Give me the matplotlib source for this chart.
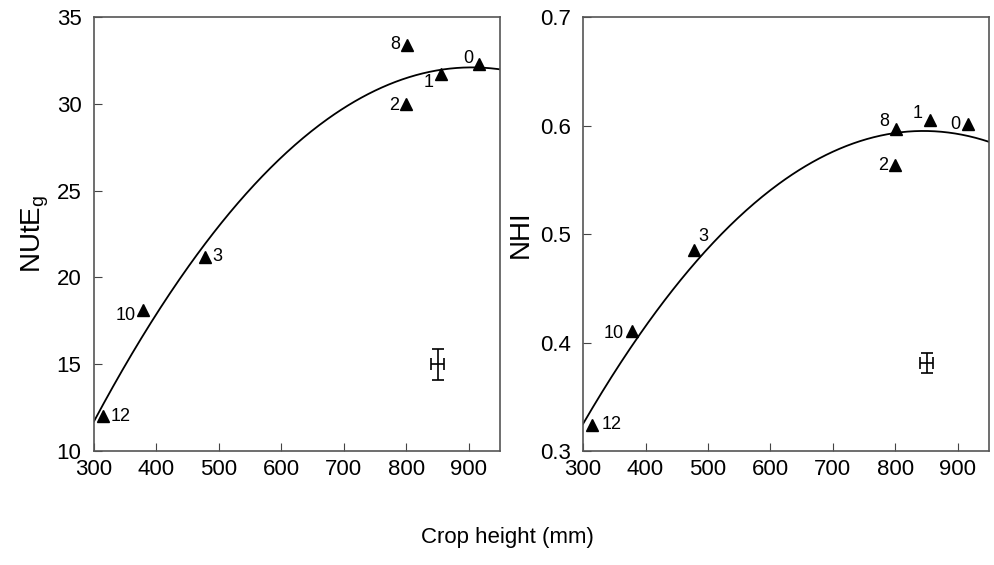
import numpy as np
import matplotlib.pyplot as plt

plt.rcParams['font.family'] = ['Liberation Sans', 'DejaVu Sans']

# Data
height = [314, 378, 478, 800, 801, 855, 916]
labels = ['12', '10', '3', '2', '8', '1', '0']
nute = [12.0, 18.1, 21.2, 30.0, 33.4, 31.7, 32.3]
nhi = [0.324, 0.411, 0.485, 0.564, 0.597, 0.605, 0.601]

# fitted quadratic curves as seen in the figure: a*(x-h)^2 + k
nute_curve = [-5.57e-5, 905, 32.1]
nhi_curve = [-9.09e-7, 845, 0.595]

# pooled error bars (x, y, xerr, yerr)
nute_err = [850, 15.0, 11, 0.9]
nhi_err = [850, 0.381, 10, 0.009]

# label offsets in points (dx, dy, ha, va)
nute_offsets = {
    '12': (6, 0, 'left', 'center'),
    '10': (-5, -4, 'right', 'center'),
    '3': (5, 0, 'left', 'center'),
    '2': (-5, -1, 'right', 'center'),
    '8': (-5, 0, 'right', 'center'),
    '1': (-5, -6, 'right', 'center'),
    '0': (-4, 4, 'right', 'center'),
}
nhi_offsets = {
    '12': (7, 0, 'left', 'center'),
    '10': (-6, -2, 'right', 'center'),
    '3': (3, 10, 'left', 'center'),
    '2': (-5, -1, 'right', 'center'),
    '8': (-5, 5, 'right', 'center'),
    '1': (-5, 5, 'right', 'center'),
    '0': (-5, 0, 'right', 'center'),
}


def draw_panel(ax, y, curve, err, offsets, ylim, yticks, ylabel):
    xs = np.linspace(300, 950, 300)
    a, h, k = curve
    ax.plot(xs, a * (xs - h) ** 2 + k, color='black', lw=1.3, zorder=2)
    ax.plot(height, y, linestyle='none', marker='^', color='black',
            markersize=9, zorder=3)
    for xv, yv, lab in zip(height, y, labels):
        dx, dy, ha, va = offsets[lab]
        ax.annotate(lab, (xv, yv), xytext=(dx, dy), textcoords='offset points',
                    ha=ha, va=va, fontsize=13)
    ax.errorbar(err[0], err[1], xerr=err[2], yerr=err[3], fmt='none',
                ecolor='black', elinewidth=1.2, capsize=4, capthick=1.2)
    ax.set_xlim(300, 950)
    ax.set_ylim(*ylim)
    ax.set_xticks([300, 400, 500, 600, 700, 800, 900])
    ax.set_yticks(yticks)
    ax.tick_params(direction='in', length=6, labelsize=16, color='#444444')
    ax.tick_params(axis='y', pad=9)
    ax.tick_params(axis='x', pad=6)
    for s in ax.spines.values():
        s.set_color('#555555')
        s.set_linewidth(1.2)
    ax.set_ylabel(ylabel, fontsize=20, labelpad=4)


fig = plt.figure(figsize=(9.95, 5.65), dpi=100)
ax1 = fig.add_axes([0.0945, 0.2018, 0.408, 0.768])
ax2 = fig.add_axes([0.586, 0.2018, 0.408, 0.768])

draw_panel(ax1, nute, nute_curve, nute_err, nute_offsets, (10, 35),
           [10, 15, 20, 25, 30, 35], r'NUtE$_\mathregular{g}$')
draw_panel(ax2, nhi, nhi_curve, nhi_err, nhi_offsets, (0.3, 0.7),
           [0.3, 0.4, 0.5, 0.6, 0.7], 'NHI')

fig.text(0.51, 0.048, 'Crop height (mm)', ha='center', va='center', fontsize=16)

fig.savefig('out.png', dpi=100)
